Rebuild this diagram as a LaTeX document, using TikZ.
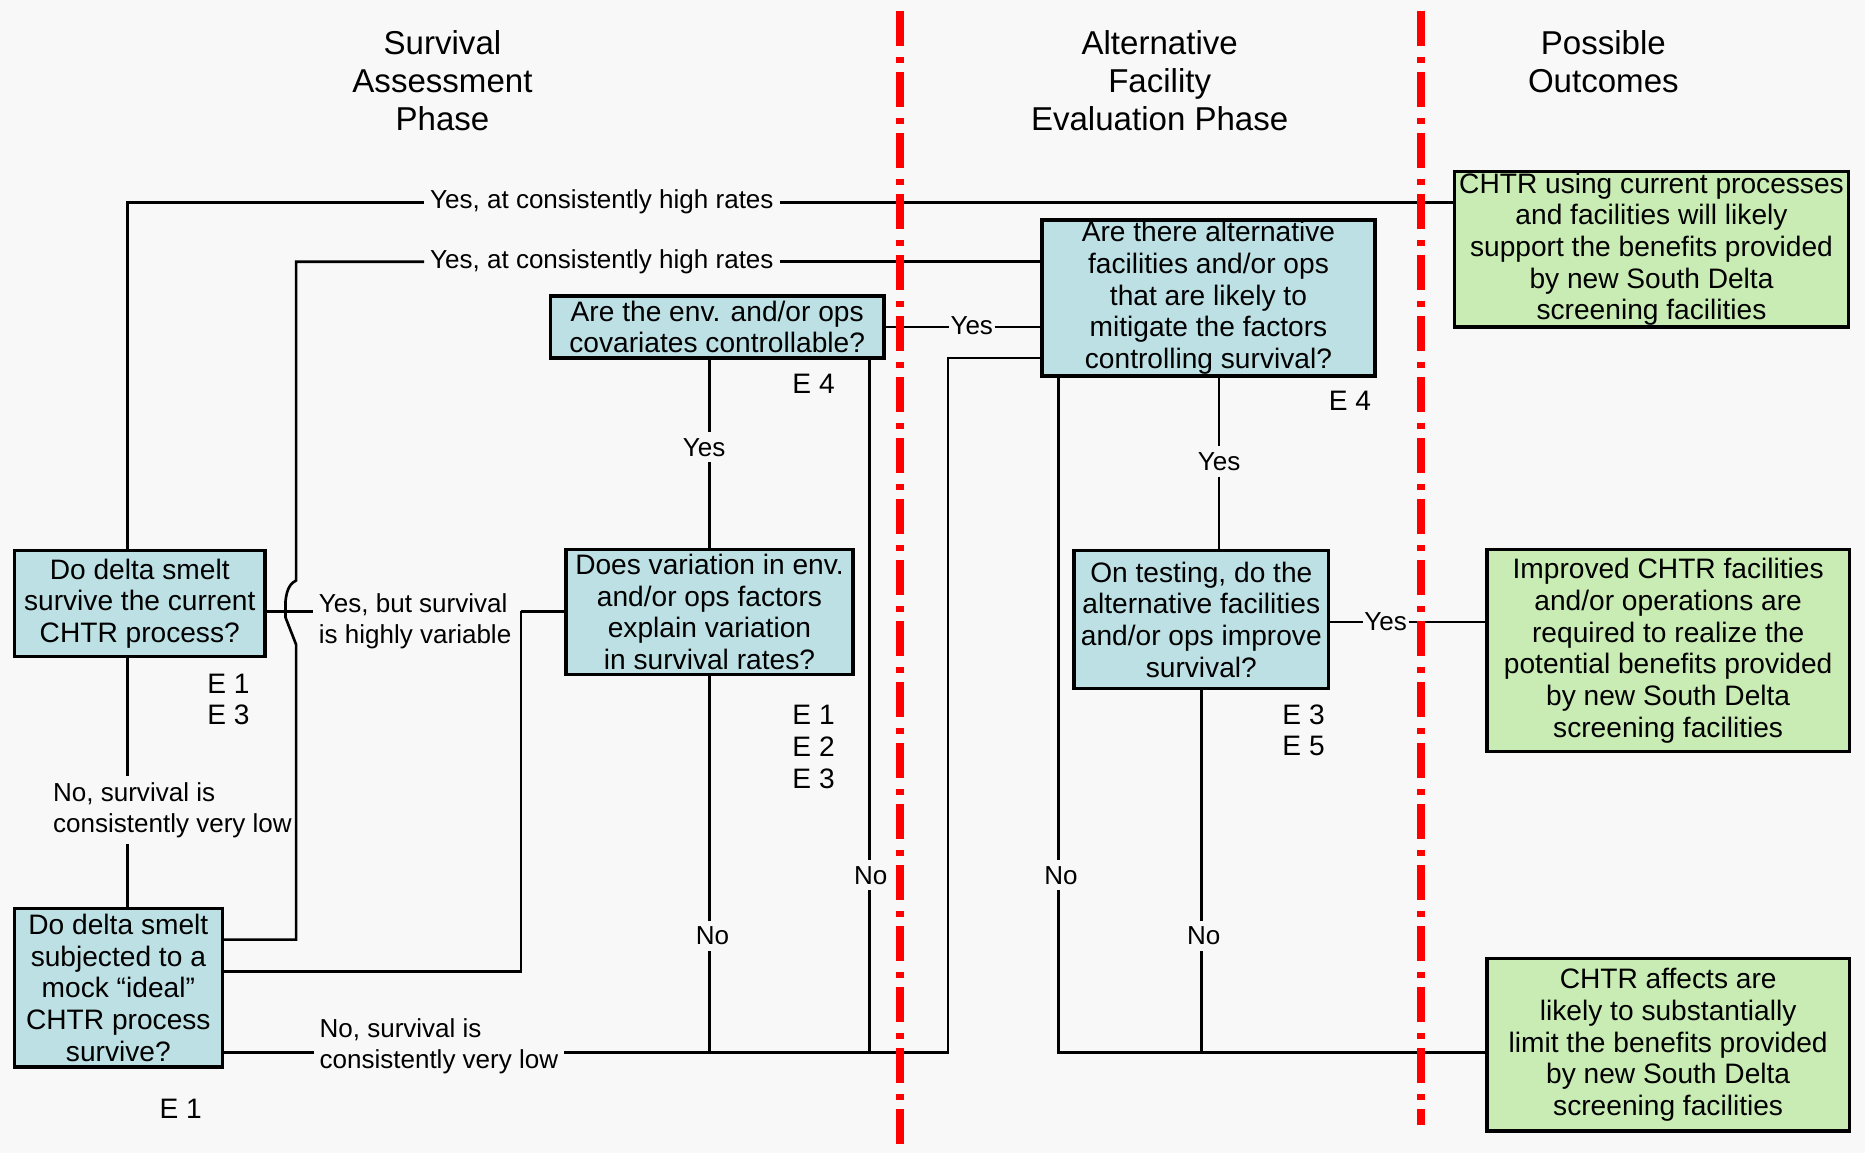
\documentclass[tikz,border=0pt]{standalone}
\usepackage{fontspec}
\setmainfont{Liberation Sans}
\usepackage{xcolor}

\definecolor{bgpage}{HTML}{F8F8F8}
\definecolor{qblue}{HTML}{BCE0E4}
\definecolor{ogreen}{HTML}{C8ECB4}
\definecolor{phasered}{HTML}{FF0000}

\newcommand{\px}{0.011894cm}
\newcommand{\boxfont}{\fontsize{8}{9}\selectfont}
\newcommand{\lblfont}{\fontsize{7.4}{8.8}\selectfont}
\newcommand{\headfont}{\fontsize{9.4}{10.8}\selectfont}

\tikzset{
  qbox/.style={draw, line width=1pt, fill=qblue, inner sep=0pt, align=center, font=\boxfont},
  obox/.style={qbox, fill=ogreen},
  lbl/.style={inner sep=1.5pt, align=left, font=\lblfont},
  tightlbl/.style={lbl, inner xsep=0.3pt},
  elbl/.style={inner sep=0pt, align=left, font=\boxfont},
  head/.style={align=center, font=\headfont},
  wire/.style={line width=0.75pt},
  phase/.style={draw=phasered, line width=2.3pt, dash pattern=on 0.35cm off 0.11cm on 0.06cm off 0.09cm}
}

\begin{document}
\begin{tikzpicture}[x=\px, y=-\px]
		% Page and phase headings:
		\fill[bgpage] (0,0) rectangle (1568,969);
		\useasboundingbox (0,0) rectangle (1568,969);
		\node[head] (hSurv) at (372,68) {Survival\\Assessment\\Phase};
		\node[head] (hAlt) at (975,68) {Alternative\\Facility\\Evaluation Phase};
		\node[head] (hOut) at (1348,52) {Possible\\Outcomes};
		% Question and outcome boxes:
		\node[qbox, minimum width=211*\px, minimum height=89*\px] (A) at (117.5,507.5) {Do delta smelt\\survive the current\\CHTR process?};
		\node[qbox, minimum width=175*\px, minimum height=133*\px] (B) at (99.5,830.5) {Do delta smelt\\subjected to a\\mock “ideal”\\CHTR process\\survive?};
		\node[qbox, minimum width=280*\px, minimum height=52*\px] (C) at (603,275) {Are the env. and/or ops\\covariates controllable?};
		\node[qbox, minimum width=241*\px, minimum height=105*\px] (D) at (596.5,514.5) {Does variation in env.\\and/or ops factors\\explain variation\\in survival rates?};
		\node[qbox, minimum width=280*\px, minimum height=131*\px] (E) at (1016,250.5) {Are there alternative\\facilities and/or ops\\that are likely to\\mitigate the factors\\controlling survival?};
		\node[qbox, minimum width=214*\px, minimum height=116*\px] (F) at (1010,521) {On testing, do the\\alternative facilities\\and/or ops improve\\survival?};
		\node[obox, minimum width=331*\px, minimum height=131*\px] (G) at (1388.5,209.5) {CHTR using current processes\\and facilities will likely\\support the benefits provided\\by new South Delta\\screening facilities};
		\node[obox, minimum width=305*\px, minimum height=170*\px] (H) at (1402.5,547) {Improved CHTR facilities\\and/or operations are\\required to realize the\\potential benefits provided\\by new South Delta\\screening facilities};
		\node[obox, minimum width=305*\px, minimum height=145*\px] (I) at (1402.5,878.5) {CHTR affects are\\likely to substantially\\limit the benefits provided\\by new South Delta\\screening facilities};
		% Evidence tags:
		\node[elbl] (eA) at (192,588) {E 1\\E 3};
		\node[elbl] (eB) at (152,932) {E 1};
		\node[elbl] (eC) at (684,323) {E 4};
		\node[elbl] (eD) at (684,628) {E 1\\E 2\\E 3};
		\node[elbl] (eE) at (1135,337) {E 4};
		\node[elbl] (eF) at (1096,614) {E 3\\E 5};
		% Connector labels:
		\node[lbl] (yesA) at (506,170) {Yes, at consistently high rates};
		\node[lbl] (yesB) at (506,220) {Yes, at consistently high rates};
		\node[lbl] (varB) at (349,522) {Yes, but survival\\is highly variable};
		\node[lbl] (noA) at (145,681) {No, survival is\\consistently very low};
		\node[lbl] (noB) at (369,880) {No, survival is\\consistently very low};
		\node[lbl] (yesC) at (592,376) {Yes};
		\node[tightlbl] (yesCE) at (817,274) {Yes};
		\node[lbl] (noC) at (732,736) {No};
		\node[lbl] (noD) at (599,787) {No};
		\node[lbl] (yesE) at (1025,388) {Yes};
		\node[lbl] (noE) at (892,736) {No};
		\node[tightlbl] (yesF) at (1165,523) {Yes};
		\node[lbl] (noF) at (1012,787) {No};
		% Bend points:
		\coordinate (kA) at (107,170);
		\coordinate (kB) at (249,220);
		\coordinate (kBr) at (249,790);
		\coordinate (kH) at (249,514);
		\coordinate (kV) at (438,514);
		\coordinate (kVb) at (438,817);
		\coordinate (kN) at (797,885);
		\coordinate (kN2) at (797,301);
		\coordinate (kC) at (731,885);
		\coordinate (kE) at (890,885);
		% Wires:
		\draw[wire] (A.north -| kA) -- (kA) -- (yesA.west |- kA);
		\draw[wire] (yesA.east |- kA) -- (G.west |- kA);
		\draw[wire] (B.east |- kBr) -- (kBr) -- (249,542) .. controls (244,530) .. (240,519) -- (240,506) .. controls (241,494) and (245,490) .. (249,488) -- (kB) -- (yesB.west |- kB);
		\draw[wire] (yesB.east |- kB) -- (E.west |- kB);
		\draw[wire] (A.east |- kH) -- (varB.west |- kH);
		\draw[wire] (kV) -- (D.west |- kV);
		\draw[wire] (B.east |- kVb) -| (kV);
		\draw[wire] (A.south -| kA) -- (noA.north -| kA);
		\draw[wire] (noA.south -| kA) -- (B.north -| kA);
		\draw[wire] (B.east |- kN) -- (noB.west |- kN);
		\draw[wire] (noB.east |- kN) -- (kN) -- (kN2) -- (E.west |- kN2);
		\draw[wire] (C.south -| D.north) -- (yesC.north -| D.north);
		\draw[wire] (yesC.south -| D.north) -- (D.north);
		\draw[wire] (C.east) -- (yesCE.west |- C.east);
		\draw[wire] (yesCE.east |- C.east) -- (E.west |- C.east);
		\draw[wire] (C.south -| kC) -- (noC.north -| kC);
		\draw[wire] (noC.south -| kC) -- (kC);
		\draw[wire] (D.south) -- (noD.north -| D.south);
		\draw[wire] (noD.south -| D.south) -- (D.south |- kN);
		\draw[wire] (E.south -| yesE) -- (yesE.north);
		\draw[wire] (yesE.south) -- (F.north -| yesE);
		\draw[wire] (E.south -| kE) -- (noE.north -| kE);
		\draw[wire] (noE.south -| kE) -- (kE) -- (I.west |- kE);
		\draw[wire] (F.east |- yesF) -- (yesF.west);
		\draw[wire] (yesF.east) -- (H.west |- yesF);
		\draw[wire] (F.south) -- (noF.north -| F.south);
		\draw[wire] (noF.south -| F.south) -- (F.south |- kE);
		% Phase borders:
		\draw[phase] (757,9) -- (757,965);
		\draw[phase] (1195,9) -- (1195,946);
\end{tikzpicture}
\end{document}
